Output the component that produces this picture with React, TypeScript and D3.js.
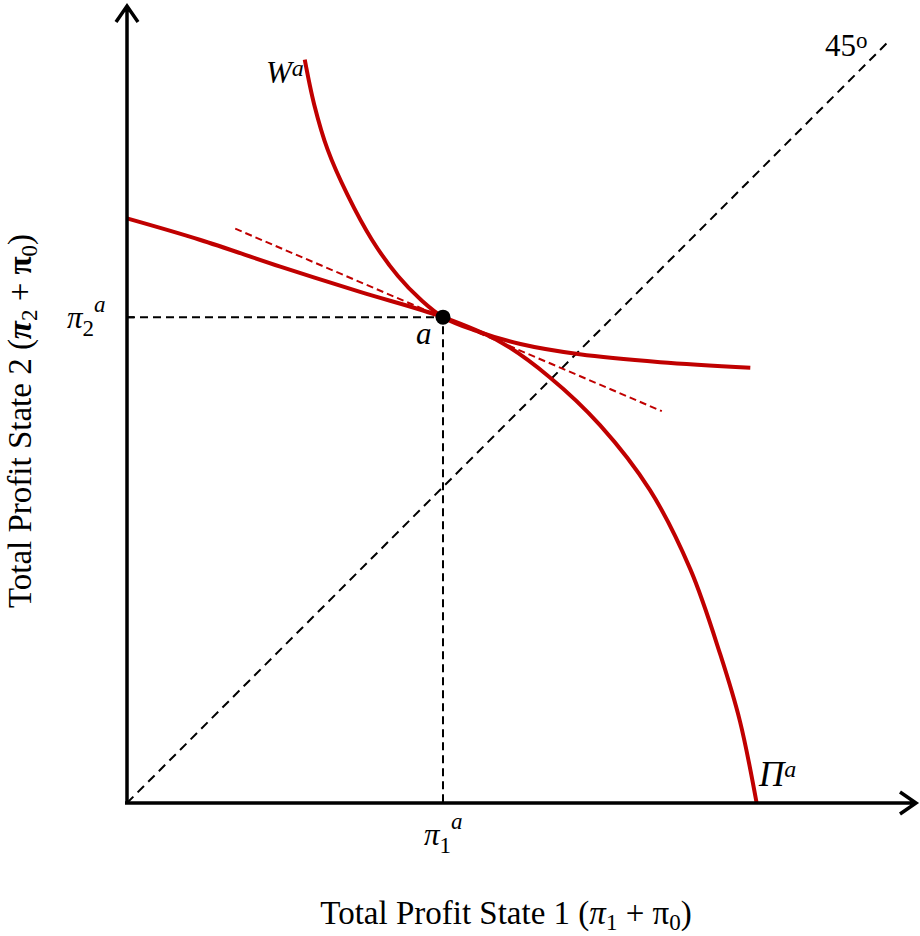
import React, { useEffect, useRef } from 'react';
import * as d3 from 'd3';

// values in chart units (origin = 0,0)
const piX = [0, 9.2, 19.4, 29.5, 40, 47.2, 53.5, 59.9, 66.2, 71.3, 75.1, 77.6, 79.7];
const piY = [74, 71.3, 67.9, 64.7, 61.5, 58.4, 53.9, 47.8, 39.6, 29.6, 18.8, 10.3, 0];
const wX = [22.5, 23.7, 25.4, 27.9, 31.0, 34.3, 37.2, 40, 44.1, 49.8, 57.3, 67.5, 78.9];
const wY = [94.1, 88.4, 82.7, 77.0, 71.3, 66.7, 63.7, 61.5, 59.8, 58.1, 56.8, 55.8, 55.1];
const tangentX = [13.7, 67.7];
const tangentY = [72.7, 49.6];
const pointA = [40, 61.5];
const diagonal = [0, 96.6];

const RED = '#c00000';
const FONT = '"Liberation Serif", "Times New Roman", serif';

export default function App() {
  const ref = useRef<SVGSVGElement>(null);

  useEffect(() => {
    const svg = d3.select(ref.current);
    svg.selectAll('*').remove();

    const x = d3.scaleLinear().domain([0, 100]).range([127, 917]);
    const y = d3.scaleLinear().domain([0, 100]).range([803, 13]);

    const line = d3
      .line<[number, number]>()
      .x((d) => x(d[0]))
      .y((d) => y(d[1]));
    const smooth = d3
      .line<[number, number]>()
      .x((d) => x(d[0]))
      .y((d) => y(d[1]))
      .curve(d3.curveCatmullRom.alpha(0.5));

    // 45 degree line
    svg
      .append('path')
      .attr('d', line([[diagonal[0], diagonal[0]], [diagonal[1], diagonal[1]]]))
      .attr('stroke', '#000')
      .attr('stroke-width', 2)
      .attr('stroke-dasharray', '9,6')
      .attr('fill', 'none');

    // guides to point a
    svg
      .append('path')
      .attr('d', line([[0, pointA[1]], [pointA[0], pointA[1]], [pointA[0], 0]]))
      .attr('stroke', '#000')
      .attr('stroke-width', 2)
      .attr('stroke-dasharray', '8,5')
      .attr('fill', 'none');

    // tangent
    svg
      .append('path')
      .attr('d', line([[tangentX[0], tangentY[0]], [tangentX[1], tangentY[1]]]))
      .attr('stroke', RED)
      .attr('stroke-width', 2)
      .attr('stroke-dasharray', '7,4')
      .attr('fill', 'none');

    // curves
    svg
      .append('path')
      .attr('d', smooth(piX.map((v, i) => [v, piY[i]] as [number, number])))
      .attr('stroke', RED)
      .attr('stroke-width', 4)
      .attr('fill', 'none');
    svg
      .append('path')
      .attr('d', smooth(wX.map((v, i) => [v, wY[i]] as [number, number])))
      .attr('stroke', RED)
      .attr('stroke-width', 4)
      .attr('fill', 'none');

    svg
      .append('circle')
      .attr('cx', x(pointA[0]))
      .attr('cy', y(pointA[1]))
      .attr('r', 7.5)
      .attr('fill', '#000');

    // axes with arrows
    const ox = x(0);
    const oy = y(0);
    svg
      .append('path')
      .attr('d', `M${ox},${oy} V6 M${ox - 11},22 L${ox},6 L${ox + 11},22`)
      .attr('stroke', '#000')
      .attr('stroke-width', 3.5)
      .attr('fill', 'none');
    svg
      .append('path')
      .attr('d', `M${ox - 2},${oy} H916 M900,${oy - 11} L916,${oy} L900,${oy + 11}`)
      .attr('stroke', '#000')
      .attr('stroke-width', 3.5)
      .attr('fill', 'none');
    // small ticks at a
    svg
      .append('path')
      .attr('d', `M${ox},${y(pointA[1])} h7 M${x(pointA[0])},${oy} v-7`)
      .attr('stroke', '#000')
      .attr('stroke-width', 2);

    const txt = (tx: number, ty: number, anchor = 'start') =>
      svg
        .append('text')
        .attr('x', tx)
        .attr('y', ty)
        .attr('text-anchor', anchor)
        .attr('font-family', FONT)
        .attr('font-size', 31)
        .attr('fill', '#000');

    const w = txt(266, 83);
    w.append('tspan').attr('font-style', 'italic').text('W');
    w.append('tspan').attr('font-style', 'italic').attr('font-size', 24).attr('dy', -7).text('a');

    const deg = txt(825, 56);
    deg.append('tspan').text('45');
    deg.append('tspan').attr('font-size', 23).attr('dy', -8).text('o');

    const p2 = txt(67, 328);
    p2.append('tspan').attr('font-style', 'italic').text('π');
    p2.append('tspan').attr('font-size', 23).attr('dy', 8).text('2');
    p2.append('tspan').attr('font-style', 'italic').attr('font-size', 23).attr('dy', -24).text('a');

    txt(416, 344).attr('font-style', 'italic').text('a');

    const pp = txt(759, 786).attr('font-size', 35);
    pp.append('tspan').attr('font-style', 'italic').text('Π');
    pp.append('tspan').attr('font-style', 'italic').attr('font-size', 24).attr('dy', -9).text('a');

    const p1 = txt(424, 845);
    p1.append('tspan').attr('font-style', 'italic').text('π');
    p1.append('tspan').attr('font-size', 23).attr('dy', 8).text('1');
    p1.append('tspan').attr('font-style', 'italic').attr('font-size', 23).attr('dy', -24).text('a');

    const xt = txt(506, 924, 'middle').attr('font-size', 33);
    xt.append('tspan').text('Total Profit State 1 (');
    xt.append('tspan').attr('font-style', 'italic').text('π');
    xt.append('tspan').attr('font-size', 23).attr('dy', 6).text('1');
    xt.append('tspan').attr('dy', -6).text(' + π');
    xt.append('tspan').attr('font-size', 23).attr('dy', 6).text('0');
    xt.append('tspan').attr('dy', -6).text(')');

    const yt = txt(0, 0, 'middle').attr('font-size', 33).attr('transform', 'translate(31,421) rotate(-90)');
    yt.append('tspan').text('Total Profit State 2 (');
    yt.append('tspan').attr('font-style', 'italic').attr('font-weight', 'bold').text('π');
    yt.append('tspan').attr('font-size', 23).attr('dy', 6).text('2');
    yt.append('tspan').attr('dy', -6).text(' + ');
    yt.append('tspan').attr('font-weight', 'bold').text('π');
    yt.append('tspan').attr('font-size', 23).attr('dy', 6).text('0');
    yt.append('tspan').attr('dy', -6).text(')');
  }, []);

  return (
    <svg
      ref={ref}
      width={920}
      height={936}
      style={{ position: 'absolute', left: 0, top: 0, background: '#fff' }}
    />
  );
}
